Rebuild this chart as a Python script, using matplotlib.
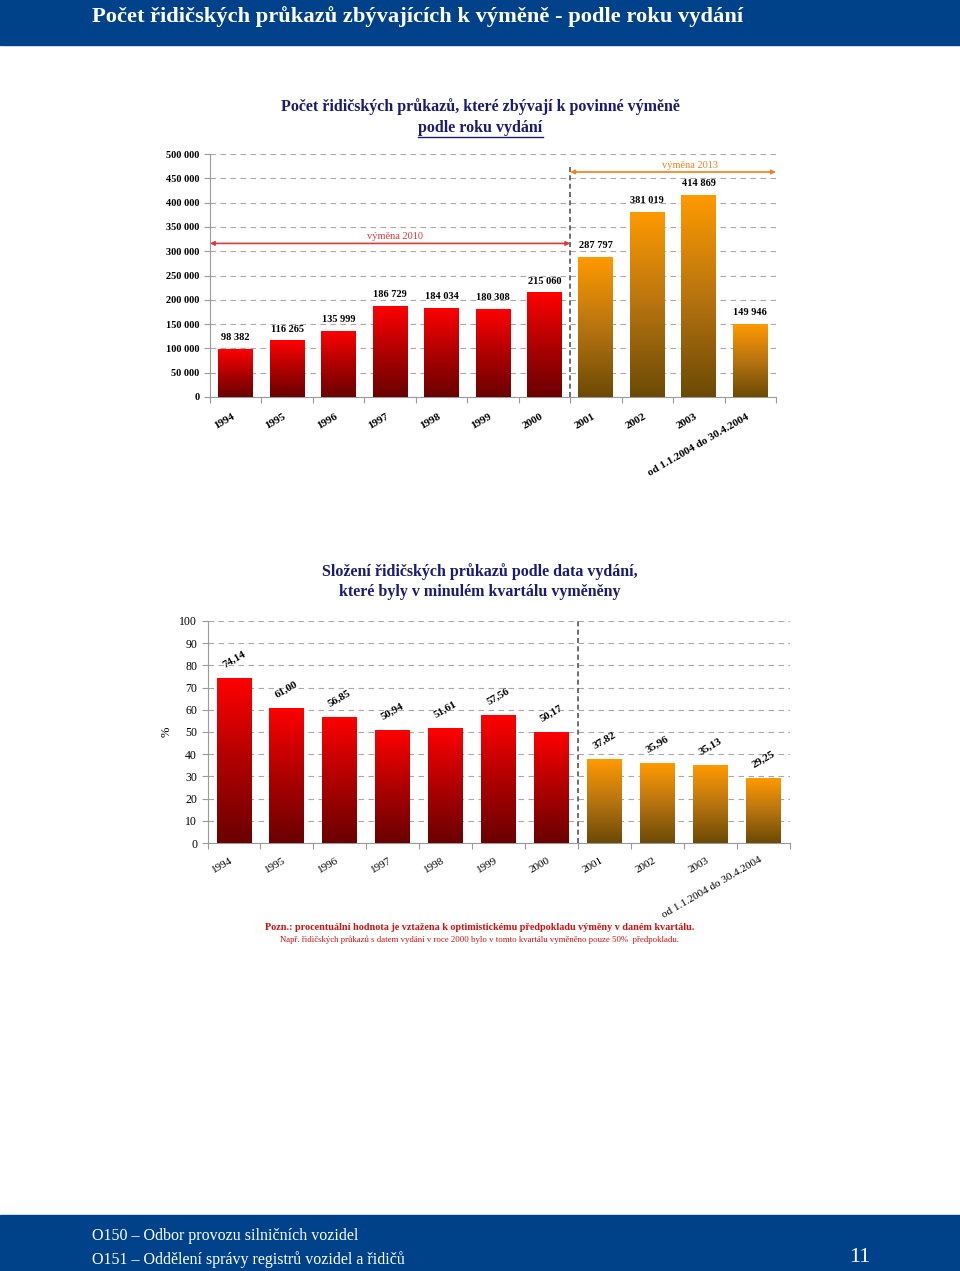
import numpy as np
import matplotlib
matplotlib.use("Agg")
import matplotlib.pyplot as plt
from matplotlib.colors import LinearSegmentedColormap

plt.rcParams['font.family'] = ['Liberation Serif', 'DejaVu Serif']

# ---------------- data ----------------
categories = ["1994", "1995", "1996", "1997", "1998", "1999", "2000",
              "2001", "2002", "2003", "od 1.1.2004 do 30.4.2004"]
remaining = [98382, 116265, 135999, 186729, 184034, 180308, 215060,
             287797, 381019, 414869, 149946]
remaining_labels = ["98 382", "116 265", "135 999", "186 729", "184 034", "180 308",
                    "215 060", "287 797", "381 019", "414 869", "149 946"]
exchanged_pct = [74.14, 61.00, 56.85, 50.94, 51.61, 57.56, 50.17,
                 37.82, 35.96, 35.13, 29.25]
group_2010 = [True] * 7 + [False] * 4
y1_ticks = list(range(0, 500001, 50000))
y2_ticks = list(range(0, 101, 10))

header_title = "Počet řidičských průkazů zbývajících k výměně - podle roku vydání"
title1_a = "Počet řidičských průkazů, které zbývají k povinné výměně"
title1_b = "podle roku vydání"
title2_a = "Složení řidičských průkazů podle data vydání,"
title2_b = "které byly v minulém kvartálu vyměněny"
note1 = "Pozn.: procentuální hodnota je vztažena k optimistickému předpokladu výměny v daném kvartálu."
note2 = "Např. řidičských průkazů s datem vydání v roce 2000 bylo v tomto kvartálu vyměněno pouze 50%  předpokladu."
footer1 = "O150 – Odbor provozu silničních vozidel"
footer2 = "O151 – Oddělení správy registrů vozidel a řidičů"
page_no = "11"
arrow_2010_level = 316000
arrow_2013_level = 463000

# ---------------- style ----------------
BLUE = "#00428a"
NAVY = "#1b1b72"
red_cmap = LinearSegmentedColormap.from_list("r", ["#6a0000", "#b00000", "#ff0000"])
org_cmap = LinearSegmentedColormap.from_list("o", ["#6b4a05", "#b87410", "#ff9a00"])

W, H = 960, 1271
fig = plt.figure(figsize=(W / 100, H / 100), dpi=100)

def fx(px):
    return px / W

def fy(py):
    return 1 - py / H

# header / footer bars
fig.patches.append(plt.Rectangle((0, fy(45)), 1, 45 / H, transform=fig.transFigure,
                                 color=BLUE, zorder=0))
fig.patches.append(plt.Rectangle((0, 0), 1, (H - 1215) / H, transform=fig.transFigure,
                                 color=BLUE, zorder=0))
fig.text(fx(92), fy(17), header_title, color="white", fontsize=16.2, fontweight="bold",
         va="center", ha="left")
fig.text(fx(92), fy(1236), footer1, color="white", fontsize=11.5, va="center")
fig.text(fx(92), fy(1260), footer2, color="white", fontsize=11.5, va="center")
fig.text(fx(870), fy(1258), page_no, color="white", fontsize=16, va="center", ha="right")


def gradient_bars(ax, x, vals, width):
    bars = ax.bar(x, vals, width=width, color="none", edgecolor="none", zorder=3)
    grad = np.linspace(0, 1, 256).reshape(-1, 1)
    for b, g in zip(bars, group_2010):
        cm = red_cmap if g else org_cmap
        bx, bw, bh = b.get_x(), b.get_width(), b.get_height()
        im = ax.imshow(grad, cmap=cm, aspect="auto", origin="lower",
                       extent=(bx, bx + bw, 0, bh), zorder=3)
        im.set_clip_path(b)
    return bars


def style_axes(ax):
    ax.grid(axis="y", linestyle=(0, (5, 4)), color="#a8a8a8", linewidth=0.8, zorder=0)
    ax.set_axisbelow(True)
    for s in ["top", "right"]:
        ax.spines[s].set_visible(False)
    for s in ["left", "bottom"]:
        ax.spines[s].set_color("#9a9a9a")
        ax.spines[s].set_linewidth(0.8)
    ax.tick_params(axis="both", colors="#9a9a9a", length=4, width=0.8)
    ax.set_xlim(-0.5, len(categories) - 0.5)


x = np.arange(len(categories))

# ---------------- chart 1 ----------------
ax1 = fig.add_axes([fx(210), fy(397), fx(776) - fx(210), fy(154) - fy(397)])
gradient_bars(ax1, x, remaining, 0.68)
style_axes(ax1)
ax1.set_ylim(0, 500000)
ax1.set_yticks(y1_ticks)
ax1.set_yticklabels([f"{v:,}".replace(",", " ") for v in y1_ticks],
                    fontsize=7.5, fontweight="bold", color="black")
ax1.set_xticks(np.arange(len(categories) + 1) - 0.5)
ax1.set_xticklabels([])
for xi, lab in zip(x, categories):
    ax1.annotate(lab, (xi, 0), xytext=(-3, -11), textcoords="offset points",
                 rotation=30, ha="right", va="top", rotation_mode="anchor",
                 fontsize=8, fontweight="bold", annotation_clip=False)
for xi, v, lab in zip(x, remaining, remaining_labels):
    ax1.annotate(lab, (xi, v), xytext=(0, 5), textcoords="offset points",
                 ha="center", va="bottom", fontsize=7.5, fontweight="bold", zorder=5)
ax1.axvline(6.5, ymin=0, ymax=0.95, color="#555555", linestyle=(0, (3, 2)),
            linewidth=1.2, zorder=4)
ax1.annotate("", xy=(-0.5, arrow_2010_level), xytext=(6.5, arrow_2010_level),
             arrowprops=dict(arrowstyle="<|-|>", color="#e03838", lw=1.2,
                             shrinkA=0, shrinkB=0, mutation_scale=6))
ax1.text(3.09, arrow_2010_level + 4000, "výměna 2010", ha="center", va="bottom",
         fontsize=7.5, color="#e03838")
ax1.annotate("", xy=(6.5, arrow_2013_level), xytext=(10.5, arrow_2013_level),
             arrowprops=dict(arrowstyle="<|-|>", color="#f08020", lw=1.2,
                             shrinkA=0, shrinkB=0, mutation_scale=6),
             annotation_clip=False)
ax1.text(8.83, arrow_2013_level + 4000, "výměna 2013", ha="center", va="bottom",
         fontsize=7.5, color="#f08020")

fig.text(0.5, fy(107), title1_a, ha="center", va="center", fontsize=11.5,
         fontweight="bold", color=NAVY)
fig.text(0.5, fy(128), title1_b, ha="center", va="center", fontsize=11.5,
         fontweight="bold", color=NAVY)
# underline
fig.lines.append(plt.Line2D([fx(418), fx(543)], [fy(137), fy(137)],
                            transform=fig.transFigure, color=NAVY, lw=1.0))

# ---------------- chart 2 ----------------
ax2 = fig.add_axes([fx(207.5), fy(843), fx(790) - fx(207.5), fy(621) - fy(843)])
gradient_bars(ax2, x, exchanged_pct, 0.66)
style_axes(ax2)
ax2.set_ylim(0, 100)
ax2.set_yticks(y2_ticks)
ax2.set_yticklabels([str(v) for v in y2_ticks], fontsize=8.5, color="black")
ax2.set_xticks(np.arange(len(categories) + 1) - 0.5)
ax2.set_xticklabels([])
for xi, lab in zip(x, categories):
    ax2.annotate(lab, (xi, 0), xytext=(-3, -9), textcoords="offset points",
                 rotation=30, ha="right", va="top", rotation_mode="anchor",
                 fontsize=8, annotation_clip=False)
for xi, v in zip(x, exchanged_pct):
    ax2.annotate(f"{v:.2f}".replace(".", ","), (xi, v), xytext=(0, 6),
                 textcoords="offset points", ha="center", va="bottom",
                 rotation=30, fontsize=8, fontweight="bold", zorder=5)
ax2.axvline(6.5, ymin=0, ymax=1.0, color="#555555", linestyle=(0, (3, 2)),
            linewidth=1.2, zorder=4)
ax2.set_ylabel("%", fontsize=9, labelpad=5)

fig.text(0.5, fy(572), title2_a, ha="center", va="center", fontsize=11.5,
         fontweight="bold", color=NAVY)
fig.text(0.5, fy(592), title2_b, ha="center", va="center", fontsize=11.5,
         fontweight="bold", color=NAVY)

fig.text(fx(480), fy(927), note1, ha="center", va="center", fontsize=7.3,
         fontweight="bold", color="#d01010")
fig.text(fx(480), fy(940), note2, ha="center", va="center", fontsize=6.3,
         color="#d01010")

fig.savefig("out.png", dpi=100)
